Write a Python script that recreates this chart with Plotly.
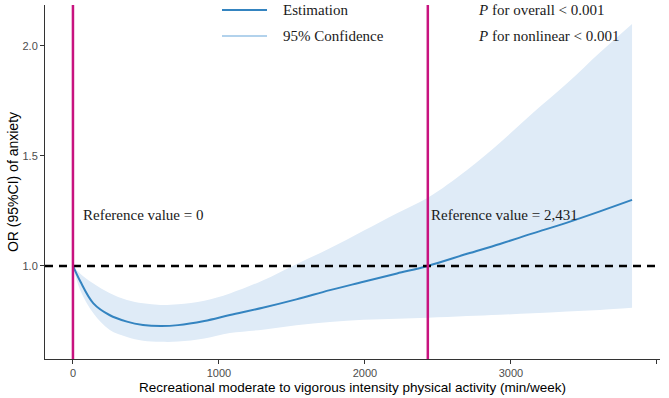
import plotly.graph_objects as go

# Data
activity = [0, 50, 140, 250, 370, 480, 600, 720, 900, 1075, 1300, 1530, 1760,
            1990, 2220, 2431, 2700, 2925, 3150, 3385, 3610, 3830]
or_est = [1.0, 0.93, 0.83, 0.777, 0.747, 0.732, 0.727, 0.731, 0.75, 0.777, 0.81,
          0.848, 0.89, 0.928, 0.966, 1.0, 1.055, 1.10, 1.148, 1.197, 1.248, 1.30]
ci_lower = [1.0, 0.89, 0.785, 0.71, 0.677, 0.66, 0.655, 0.656, 0.67, 0.695, 0.71,
            0.73, 0.745, 0.755, 0.76, 0.764, 0.772, 0.778, 0.785, 0.793, 0.80, 0.81]
ci_upper = [1.0, 0.965, 0.92, 0.877, 0.845, 0.83, 0.823, 0.826, 0.842, 0.875, 0.934,
            1.008, 1.08, 1.16, 1.24, 1.31, 1.436, 1.56, 1.695, 1.83, 1.97, 2.10]
ref_values = [0, 2431]
ref_labels = ["Reference value = 0", "Reference value = 2,431"]
y_ticks = [1.0, 1.5, 2.0]
x_ticks = [0, 1000, 2000, 3000, 4000]
legend_labels = ["Estimation", "95% Confidence"]
p_texts = ["<i>P</i> for overall < 0.001", "<i>P</i> for nonlinear < 0.001"]

EST_COLOR = "#3484C0"
BAND_COLOR = "#DFEBF7"
CI_LEG_COLOR = "#B2D2EC"
REF_COLOR = "#C8137F"
SERIF = "Liberation Serif, Times New Roman, serif"
SANS = "Liberation Sans, Arial, sans-serif"

fig = go.Figure()
fig.add_trace(go.Scatter(x=activity, y=ci_lower, mode="lines", line=dict(width=0, color=BAND_COLOR, shape="spline"),
                         showlegend=False, hoverinfo="skip"))
fig.add_trace(go.Scatter(x=activity, y=ci_upper, mode="lines", line=dict(width=0, color=BAND_COLOR, shape="spline"),
                         fill="tonexty", fillcolor=BAND_COLOR, showlegend=False, hoverinfo="skip"))
fig.add_trace(go.Scatter(x=activity, y=or_est, mode="lines", name="Estimation",
                         line=dict(color=EST_COLOR, width=2, shape="spline"), showlegend=False))

fig.add_hline(y=1.0, line=dict(color="black", width=2.4, dash="8px,6px"))
for rv, lab in zip(ref_values, ref_labels):
    fig.add_vline(x=rv, line=dict(color=REF_COLOR, width=2.5))
    fig.add_annotation(x=rv, y=1.232, xref="x", yref="y", text=lab, showarrow=False,
                       xanchor="left", yanchor="middle", xshift=8 if rv == 0 else 1,
                       font=dict(family=SERIF, size=15, color="#1a1a1a"))

# manual legend (positioned in paper coordinates)
leg_y = [0.9859, 0.9124]
leg_colors = [EST_COLOR, CI_LEG_COLOR]
for yy, col, lab in zip(leg_y, leg_colors, legend_labels):
    fig.add_shape(type="line", xref="paper", yref="paper", x0=0.2878, x1=0.361, y0=yy, y1=yy,
                  line=dict(color=col, width=2))
    fig.add_annotation(x=0.3837, y=yy, xref="paper", yref="paper", text=lab, showarrow=False,
                       xanchor="left", yanchor="middle",
                       font=dict(family=SERIF, size=15, color="#1a1a1a"))

for yy, t in zip(leg_y, p_texts):
    fig.add_annotation(x=0.7015, y=yy, xref="paper", yref="paper", text=t,
                       showarrow=False, xanchor="left", yanchor="middle",
                       font=dict(family=SERIF, size=15, color="#1a1a1a"))

fig.update_layout(
    width=669, height=398,
    margin=dict(l=45, r=9, t=5, b=39),
    paper_bgcolor="white", plot_bgcolor="white",
    showlegend=False,
    xaxis=dict(range=[-191.5, 4021.5], tickvals=x_ticks, showline=True, linecolor="#333333",
               linewidth=1, ticks="outside", ticklen=4, tickcolor="#333333", showgrid=False,
               zeroline=False, automargin=False, tickfont=dict(family=SANS, size=11, color="#4D4D4D"),
               title=dict(text="Recreational moderate to vigorous intensity physical activity (min/week)",
                          font=dict(family=SANS, size=13.5, color="black"), standoff=4)),
    yaxis=dict(range=[0.577, 2.186], tickvals=y_ticks, tickformat=".1f", showline=True,
               linecolor="#333333", linewidth=1, ticks="outside", ticklen=4, tickcolor="#333333",
               showgrid=False, zeroline=False, automargin=False,
               tickfont=dict(family=SANS, size=11, color="#4D4D4D"),
               title=dict(text="OR (95%CI) of anxiety", font=dict(family=SANS, size=14, color="black"),
                          standoff=0)),
)

fig.write_html("out.html", config={"displayModeBar": False},
               post_script="document.body.style.margin='0';document.body.style.padding='0';")
